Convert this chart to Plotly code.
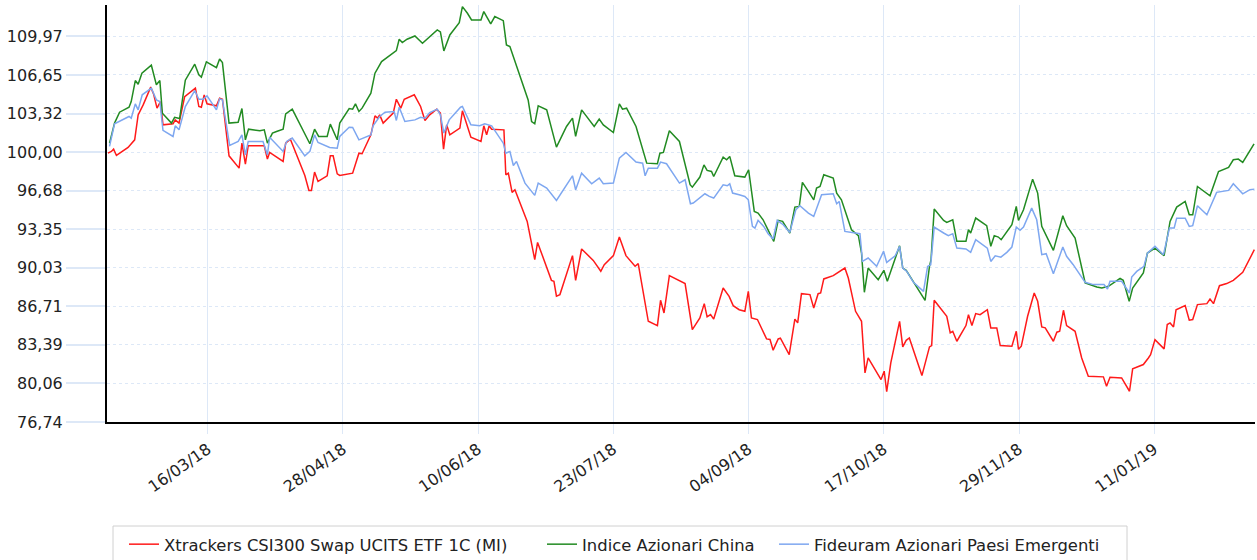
import pandas as pd
import plotly.graph_objects as go

START = "2018-02-12"

# days since START, values
red_days = [0.3,1.4,2.1,3,6.7,8.8,9.9,11.5,13.9,14.8,15.9,17,17.8,21,21.7,22.9,24.7,28.1,29.2,30,30.9,31.8,34.8,35.8,36.7,38.8,42,42.9,44,44.9,50,51,51.7,56,56.8,58.3,62.9,64.2,65,66,67.1,70,71,71.9,73.2,74,78.1,80.1,81.1,83.9,85.2,86,86.7,87.8,91,92,93.4,94.5,97.7,99.7,101.1,102.6,104.8,106,107,108,109,112.2,113,115.7,118.9,119.8,120.7,121.5,122.3,126.2,126.8,127.6,128.8,129.7,133.6,136,136.9,141.3,142.1,142.9,144,148,149,150.9,154.6,157,158.1,161,162.9,165,167.9,168.9,172.1,175,176,177.1,178.8,183.8,186.1,188.5,189.9,190.8,191.9,192.9,195.9,197.8,199.1,201,202.8,203.9,204.9,206.8,209.7,210.8,211.8,213.4,214.1,216.9,218.7,219.6,220.8,223.5,224.7,226.1,226.9,227.9,230.9,234.6,235.7,238,239.9,241,242,246.1,247.1,247.9,249.2,252,253,254.1,255.1,259.1,261.5,262.2,263,266,267,268.1,268.9,270.2,273.1,273.9,275,276.2,277.6,279.9,281,282.9,284,287.7,289.1,289.8,290.7,292.7,294.8,295.9,297.2,298.3,300.9,302,302.9,304.1,305.1,307.8,309.9,312,316.8,317.8,318.9,322.6,325.1,326.1,329.5,331.1,331.8,333.2,336.1,337.1,338,339.1,339.9,342.8,344.1,345.2,346.7,349.7,350.7,351.8,353.7,356,358.1,361.1,364.8]
red_vals = [99.91,100.06,100.26,99.71,100.4,101.06,103.21,104.07,105.6,105.02,103.79,104.36,102.35,102.44,102.78,102.5,104.79,105.51,103.93,103.87,104.93,104.16,103.99,104.65,104.56,99.68,98.62,100.77,98.97,100.55,100.55,99.4,99.97,99.2,100.77,101.12,97.99,96.7,96.7,98.28,97.47,97.96,99.68,99.68,98.13,97.99,98.19,99.91,99.86,101.49,103.13,102.93,103.21,102.5,103.36,104.56,103.79,104.56,104.94,103.93,102.73,103.21,103.7,103.36,100.26,102.35,101.49,102.07,103.56,101.29,100.92,102.27,101.49,102.27,101.98,101.92,98.05,98.19,96.53,96.76,94.03,90.73,92.22,88.95,88.87,87.58,87.72,91.08,88.95,91.65,90.67,89.73,90.3,91.08,92.68,91.08,90.16,90.39,85.42,85.05,87.23,86.14,89.35,88.67,84.7,85.71,86.94,85.8,86.0,85.61,88.29,87.57,86.77,86.42,86.28,88.0,85.71,85.57,83.9,83.85,82.93,83.9,83.96,82.55,85.61,85.28,87.8,87.72,86.57,87.8,87.86,89.07,89.35,90.01,89.15,86.28,85.42,80.97,82.26,80.4,81.12,79.35,81.83,85.42,83.21,83.78,83.98,80.74,83.21,83.33,87.23,86.14,85.85,84.43,84.56,83.7,85.05,85.99,85.05,86.08,85.99,86.42,84.85,84.85,83.33,83.27,84.56,83.0,83.27,85.85,87.86,87.14,84.93,84.85,83.7,84.48,84.56,86.37,85.05,84.56,82.26,80.68,80.63,79.83,80.6,80.54,79.39,81.32,81.69,82.26,82.55,83.84,83.04,85.14,85.28,84.93,86.42,86.77,85.51,85.57,86.86,86.94,87.34,86.94,88.49,88.67,88.95,89.64,91.59]

green_days = [0.8,2.4,4,7,7.7,9,9.9,11.1,14.1,15.7,16.8,17.6,20.5,21.5,23.1,24.9,27.9,29.2,30,31.6,34.8,35.8,36.7,38.8,41.7,42.9,44,45,48.6,50,51,52.6,53.9,56,56.8,58.9,64.5,66,67.3,70,71,73.2,74,77,78.1,79,80.1,81.1,83.9,85.2,87.3,92,92.9,93.9,95.4,97.9,100.3,105,106,107.1,109,112,113,114.6,115.9,118.9,119.8,122,123.3,126,127,128.1,133.9,135,136,137.1,139.8,142.9,146.1,148,149,150.9,154.9,156.5,157.8,161,162.9,163.9,165.2,168.2,171.6,175,175.8,176.9,178.8,182,185.4,186.1,188.5,189.8,190.8,192.2,192.9,195.9,197,198,199.6,202.8,204,205.8,207,208.6,210.4,212,213.4,214.8,217.1,218.7,220.1,221.1,223,224.7,225.6,226.7,227.9,230.9,232,233.5,236.7,238.9,239.9,240.8,242,245.2,247,248.1,252,253,254.1,260.1,261.5,262,263,266,267,268.9,270.2,273.1,273.9,274.6,276.2,279.7,281,282.1,283.4,284.3,287.7,289.1,289.8,291.4,294.3,295.9,297.2,300.9,303.9,305.1,307.8,311,314.7,316.3,318.4,322.1,323.1,325,326.1,329.5,330.8,333.2,336.1,338,340.1,342.8,344.1,345.2,346.7,350.7,353.4,356.6,358.1,359.7,361.1,364.7]
green_vals = [100.77,102.5,103.44,103.87,104.36,106.17,105.85,106.8,107.49,105.8,106.17,103.36,102.5,103.0,102.9,106.2,107.58,106.66,106.46,107.78,107.29,108.03,107.72,102.5,102.58,103.76,101.06,101.98,101.84,101.92,100.77,101.64,101.78,101.98,103.3,103.7,100.72,101.98,101.35,101.35,102.41,101.06,102.5,103.76,103.7,104.16,103.5,103.79,105.08,106.8,107.8,108.75,109.73,109.44,109.73,110.01,109.38,110.53,110.36,108.72,110.1,111.16,112.54,111.97,111.39,111.39,112.11,111.05,111.68,111.33,109.24,109.1,104.5,102.64,102.44,103.99,103.64,100.43,102.21,102.93,101.35,103.64,102.21,102.84,102.35,101.69,104.16,103.7,103.79,102.21,99.05,99.0,99.91,99.97,101.84,100.92,97.19,96.98,97.85,98.9,98.42,98.33,97.9,99.57,99.34,99.63,97.96,97.85,98.48,94.89,94.75,94.17,93.17,92.31,94.12,94.03,93.03,95.26,95.32,97.39,96.61,95.89,96.9,97.04,98.05,97.76,96.47,95.89,93.31,92.8,91.3,87.92,90.01,89.0,89.81,88.87,91.93,90.01,89.81,87.23,90.15,90.73,95.09,94.11,93.94,94.17,92.31,92.31,93.31,93.03,94.32,93.66,91.88,92.8,92.68,92.45,93.74,95.32,94.11,95.03,97.67,96.47,93.6,91.53,94.51,93.66,92.59,88.72,88.38,88.29,88.44,89.12,88.95,87.14,88.29,89.58,91.3,91.73,91.07,94.03,95.26,95.75,94.6,94.6,97.04,96.24,98.33,98.68,99.34,99.4,99.11,100.71]

blue_days = [0.8,2.4,7,7.7,9,9.9,11.2,14.1,15.7,16.8,17.8,21,21.7,22.9,24.9,27.9,29.2,30.5,31.8,34.8,35.8,36.7,39,41.7,42.9,44,44.9,49.6,51,51.7,56,57.1,58.9,62.9,64.5,66,67.1,70.8,73.2,74,77,78.1,80.1,83.9,84.6,86.7,88.4,91.3,92,92.9,94.7,97.9,99.7,101.1,102.6,105,106,107.1,108.8,112.4,113,115.7,118.5,120.1,122.3,126,126.8,128.1,129.2,130.2,132.9,136,137.1,139.8,142.9,148,149,150.9,154.1,156.5,157.8,161,162.9,165,168.2,170.3,171.1,172.1,175,176,177.9,182,183.8,185.5,186.4,190.1,191.5,192.9,195.9,197.2,198,198.9,201,202.8,203.9,205.2,206,207,208.8,210.2,211.8,213.1,215,217.1,219,220.3,223,224.7,227.2,230.9,232,232.8,234.6,238.3,239.4,240.2,242,244.7,246.9,247.9,250.6,252,253,254.3,256.4,259.6,260.9,261.9,263,266,267.5,268.9,270.2,273.1,274.6,276.2,279.9,281,282.4,284.2,286.1,287.7,289.1,290.3,291.4,294,295.6,297.2,298.6,300.9,303.9,305.1,307.2,311,313.6,317,318.1,318.9,322.6,325.1,325.8,327.4,329.7,330.8,333.2,335.9,337.8,339.3,340.1,342.8,344.1,345.2,346.7,349.7,352.8,356.6,358.1,361.1,363.4,364.8]
blue_vals = [100.49,102.44,103.07,102.93,104.16,103.64,104.94,105.51,104.5,104.36,101.87,101.35,102.27,101.92,103.93,105.31,104.56,104.56,104.85,103.64,104.59,104.5,100.57,100.92,101.49,99.77,100.92,100.92,99.77,101.29,100.06,100.92,101.21,99.68,100.06,101.49,100.83,100.4,100.34,101.35,102.15,102.12,101.06,101.49,102.27,103.07,103.44,103.5,102.73,103.87,102.64,102.78,103.01,102.93,103.41,103.7,103.21,101.64,102.78,103.87,103.93,102.35,102.27,102.44,102.27,100.77,99.91,100.06,98.85,99.2,97.33,96.27,97.33,96.9,95.84,97.96,96.76,98.19,97.27,97.76,97.27,97.33,99.48,99.97,99.14,99.05,97.96,98.62,98.62,99.14,99.0,97.33,97.62,95.55,95.61,96.41,96.18,96.04,97.19,97.1,97.27,96.47,96.33,96.18,95.89,93.6,93.45,94.12,93.6,92.97,92.51,94.12,93.74,93.08,95.03,95.38,94.75,94.46,96.33,96.41,95.55,95.75,93.17,93.03,92.97,90.59,90.87,90.16,91.45,90.5,91.07,91.88,90.01,89.72,88.78,88.0,90.15,90.3,93.54,93.03,92.8,92.97,91.73,91.65,91.36,92.45,91.73,90.58,91.07,90.95,91.36,91.82,93.54,93.26,93.54,95.17,94.17,91.16,91.25,89.52,91.82,91.02,90.3,88.78,88.58,88.58,88.21,88.87,88.87,87.86,89.24,89.72,90.16,91.3,91.88,91.16,93.46,93.46,94.31,94.31,93.6,93.66,95.38,94.6,96.53,96.7,97.27,96.41,96.76,96.81]

series_names = ["Xtrackers CSI300 Swap UCITS ETF 1C (MI)", "Indice Azionari China", "Fideuram Azionari Paesi Emergenti"]
series_colors = ["#ff1a1a", "#228b22", "#7ea7f0"]

y_tick_vals = [76.74, 80.06, 83.39, 86.71, 90.03, 93.35, 96.68, 100.00, 103.32, 106.65, 109.97]
y_tick_text = ["76,74", "80,06", "83,39", "86,71", "90,03", "93,35", "96,68", "100,00", "103,32", "106,65", "109,97"]
x_tick_vals = ["2018-03-16", "2018-04-28", "2018-06-10", "2018-07-23", "2018-09-04", "2018-10-17", "2018-11-29", "2019-01-11"]
x_tick_text = ["16/03/18", "28/04/18", "10/06/18", "23/07/18", "04/09/18", "17/10/18", "29/11/18", "11/01/19"]


def to_dates(days):
    return pd.Timestamp(START) + pd.to_timedelta(days, unit="D")


W, H = 1257, 560
ML, MR, MT, MB = 107, 2, 5, 138
PW, PH = W - ML - MR, H - MT - MB


def px_x(x):
    return (x - ML) / PW


def px_y(y):
    return (H - MB - y) / PH


legend_ids = ["legend", "legend2", "legend3"]
legend_left_px = [124, 542, 774]
font = dict(family="DejaVu Sans", size=16, color="#222222")
legend_font = dict(family="DejaVu Sans", size=16.4, color="#222222")

fig = go.Figure()
for i, (d, v) in enumerate([(red_days, red_vals), (green_days, green_vals), (blue_days, blue_vals)]):
    fig.add_trace(go.Scatter(x=to_dates(d), y=v, mode="lines", name=series_names[i],
                             line=dict(color=series_colors[i], width=1.5),
                             legend=legend_ids[i]))

legend_cfg = {}
for lid, lx in zip(legend_ids, legend_left_px):
    legend_cfg[lid] = dict(orientation="h", x=px_x(lx), xanchor="left",
                           y=px_y(527), yanchor="top",
                           bgcolor="rgba(0,0,0,0)", borderwidth=0, font=legend_font)

grid_col = "#dde8f7"
fig.update_layout(
    width=W, height=H,
    margin=dict(l=ML, r=MR, t=MT, b=MB, autoexpand=False),
    paper_bgcolor="white", plot_bgcolor="white",
    font=font,
    showlegend=True,
    **legend_cfg,
    shapes=[dict(type="rect", xref="paper", yref="paper",
                 x0=px_x(113), x1=px_x(1127), y0=px_y(526), y1=px_y(566),
                 line=dict(color="#d0d0d0", width=1), fillcolor="rgba(0,0,0,0)",
                 layer="below")],
)
fig.update_xaxes(
    range=["2018-02-12", "2019-02-12"], automargin=False,
    tickmode="array", tickvals=x_tick_vals, ticktext=x_tick_text, tickangle=-35,
    showgrid=True, gridcolor=grid_col, gridwidth=1,
    ticks="outside", ticklen=10, tickcolor=grid_col,
    showline=True, linecolor="black", linewidth=2,
    tickfont=font, zeroline=False,
)
fig.update_yaxes(
    range=[76.74, 112.68], automargin=False,
    tickmode="array", tickvals=y_tick_vals, ticktext=y_tick_text,
    showgrid=True, gridcolor=grid_col, gridwidth=1, griddash="dot",
    ticks="outside", ticklen=39, tickcolor=grid_col, tickwidth=2,
    showline=True, linecolor="black", linewidth=2,
    tickfont=font, zeroline=False,
)

fig.write_html("out.html", config={"displayModeBar": False},
               post_script="document.body.style.margin='0';document.body.style.overflow='hidden';")
